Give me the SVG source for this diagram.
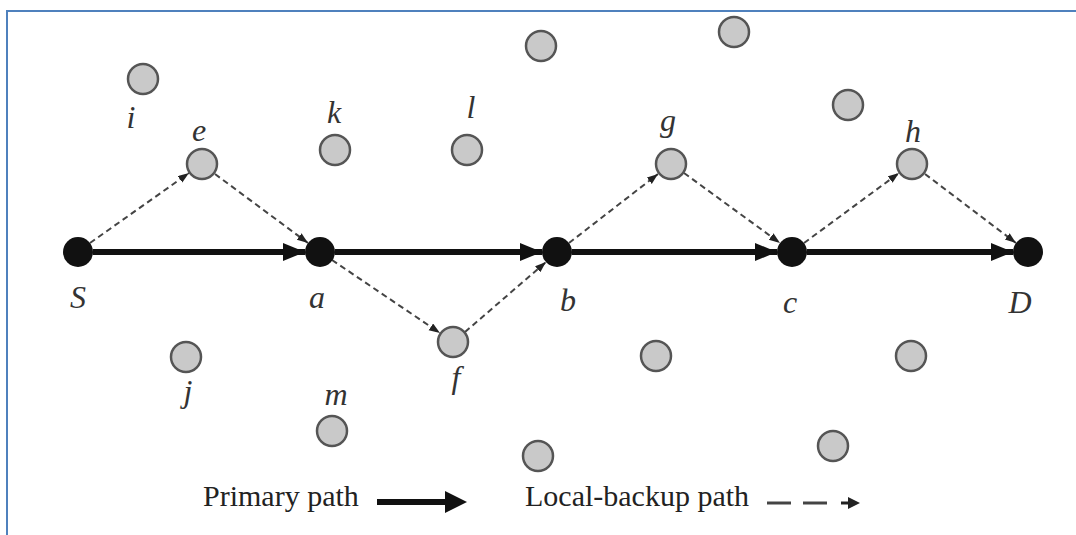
<svg xmlns="http://www.w3.org/2000/svg" width="1076" height="535" viewBox="0 0 1076 535">
<style>
.bg{fill:#ffffff}
.frame{stroke:#4f81bd;stroke-width:2;fill:none}
.key{fill:#111111}
.relay{fill:#c9c9c9;stroke:#555555;stroke-width:2.5}
.lbl{font-family:"Liberation Serif",serif;font-style:italic;font-size:32px;fill:#333333;text-anchor:middle}
.leg{font-family:"Liberation Serif",serif;font-size:30px;fill:#222222}
.primary{stroke:#111111;stroke-width:6;fill:none}
.backup{stroke:#444444;stroke-width:2;stroke-dasharray:6 4;fill:none}
</style>
<defs>
<marker id="headP" markerUnits="userSpaceOnUse" markerWidth="24" markerHeight="20" refX="22" refY="9" orient="auto">
<path d="M0,0 L22,9 L0,18 z" fill="#111111"/>
</marker>
<marker id="headB" markerUnits="userSpaceOnUse" markerWidth="12" markerHeight="10" refX="11" refY="4" orient="auto">
<path d="M0,0 L11,4 L0,8 z" fill="#222222"/>
</marker>
</defs>
<rect class="bg" x="0" y="0" width="1076" height="535"/>
<path class="frame" d="M7,535 L7,11 L1076,11"/>

<g id="connectors">
<line class="primary" x1="93" y1="252" x2="305" y2="252" marker-end="url(#headP)"/>
<line class="primary" x1="335" y1="252" x2="542" y2="252" marker-end="url(#headP)"/>
<line class="primary" x1="572" y1="252" x2="777" y2="252" marker-end="url(#headP)"/>
<line class="primary" x1="807" y1="252" x2="1013" y2="252" marker-end="url(#headP)"/>
<line class="backup" x1="90" y1="243" x2="189" y2="173" marker-end="url(#headB)"/>
<line class="backup" x1="215" y1="174" x2="308" y2="243" marker-end="url(#headB)"/>
<line class="backup" x1="332" y1="260" x2="440" y2="333" marker-end="url(#headB)"/>
<line class="backup" x1="465" y1="332" x2="546" y2="262" marker-end="url(#headB)"/>
<line class="backup" x1="569" y1="243" x2="658" y2="174" marker-end="url(#headB)"/>
<line class="backup" x1="684" y1="173" x2="780" y2="243" marker-end="url(#headB)"/>
<line class="backup" x1="804" y1="243" x2="899" y2="173" marker-end="url(#headB)"/>
<line class="backup" x1="925" y1="174" x2="1016" y2="243" marker-end="url(#headB)"/>
</g>

<g id="node-S"><circle class="key" cx="78" cy="252" r="15"/><text class="lbl" x="78" y="308">S</text></g>
<g id="node-a"><circle class="key" cx="320" cy="252" r="15"/><text class="lbl" x="317" y="308">a</text></g>
<g id="node-b"><circle class="key" cx="557" cy="252" r="15"/><text class="lbl" x="568" y="311">b</text></g>
<g id="node-c"><circle class="key" cx="792" cy="252" r="15"/><text class="lbl" x="790" y="313">c</text></g>
<g id="node-D"><circle class="key" cx="1028" cy="252" r="15"/><text class="lbl" x="1020" y="313">D</text></g>

<g id="node-e"><circle class="relay" cx="202" cy="164" r="15"/><text class="lbl" x="199" y="141">e</text></g>
<g id="node-f"><circle class="relay" cx="453" cy="342" r="15"/><text class="lbl" x="456" y="388">f</text></g>
<g id="node-g"><circle class="relay" cx="671" cy="164" r="15"/><text class="lbl" x="668" y="131">g</text></g>
<g id="node-h"><circle class="relay" cx="912" cy="164" r="15"/><text class="lbl" x="913" y="142">h</text></g>
<g id="node-i"><circle class="relay" cx="143" cy="79" r="15"/><text class="lbl" x="131" y="128">i</text></g>
<g id="node-j"><circle class="relay" cx="186" cy="357" r="15"/><text class="lbl" x="188" y="402">j</text></g>
<g id="node-k"><circle class="relay" cx="335" cy="150" r="15"/><text class="lbl" x="334" y="123">k</text></g>
<g id="node-l"><circle class="relay" cx="467" cy="150" r="15"/><text class="lbl" x="471" y="118">l</text></g>
<g id="node-m"><circle class="relay" cx="332" cy="431" r="15"/><text class="lbl" x="336" y="405">m</text></g>
<g id="node-n1"><circle class="relay" cx="541" cy="46" r="15"/></g>
<g id="node-n2"><circle class="relay" cx="734" cy="32" r="15"/></g>
<g id="node-n3"><circle class="relay" cx="848" cy="105" r="15"/></g>
<g id="node-n4"><circle class="relay" cx="656" cy="356" r="15"/></g>
<g id="node-n5"><circle class="relay" cx="911" cy="356" r="15"/></g>
<g id="node-n6"><circle class="relay" cx="538" cy="456" r="15"/></g>
<g id="node-n7"><circle class="relay" cx="833" cy="446" r="15"/></g>

<g id="legend">
<text class="leg" x="203" y="506">Primary path</text>
<line x1="377" y1="502" x2="447" y2="502" stroke="#111111" stroke-width="6"/>
<path d="M445,491 L467,502 L445,513 z" fill="#111111"/>
<text class="leg" x="525" y="506">Local-backup path</text>
<line x1="767" y1="503" x2="791" y2="503" stroke="#444444" stroke-width="3"/>
<line x1="803" y1="503" x2="827" y2="503" stroke="#444444" stroke-width="3"/>
<line x1="841" y1="503" x2="849" y2="503" stroke="#222222" stroke-width="3"/>
<path d="M848,497 L860,503 L848,509 z" fill="#222222"/>
</g>
</svg>
